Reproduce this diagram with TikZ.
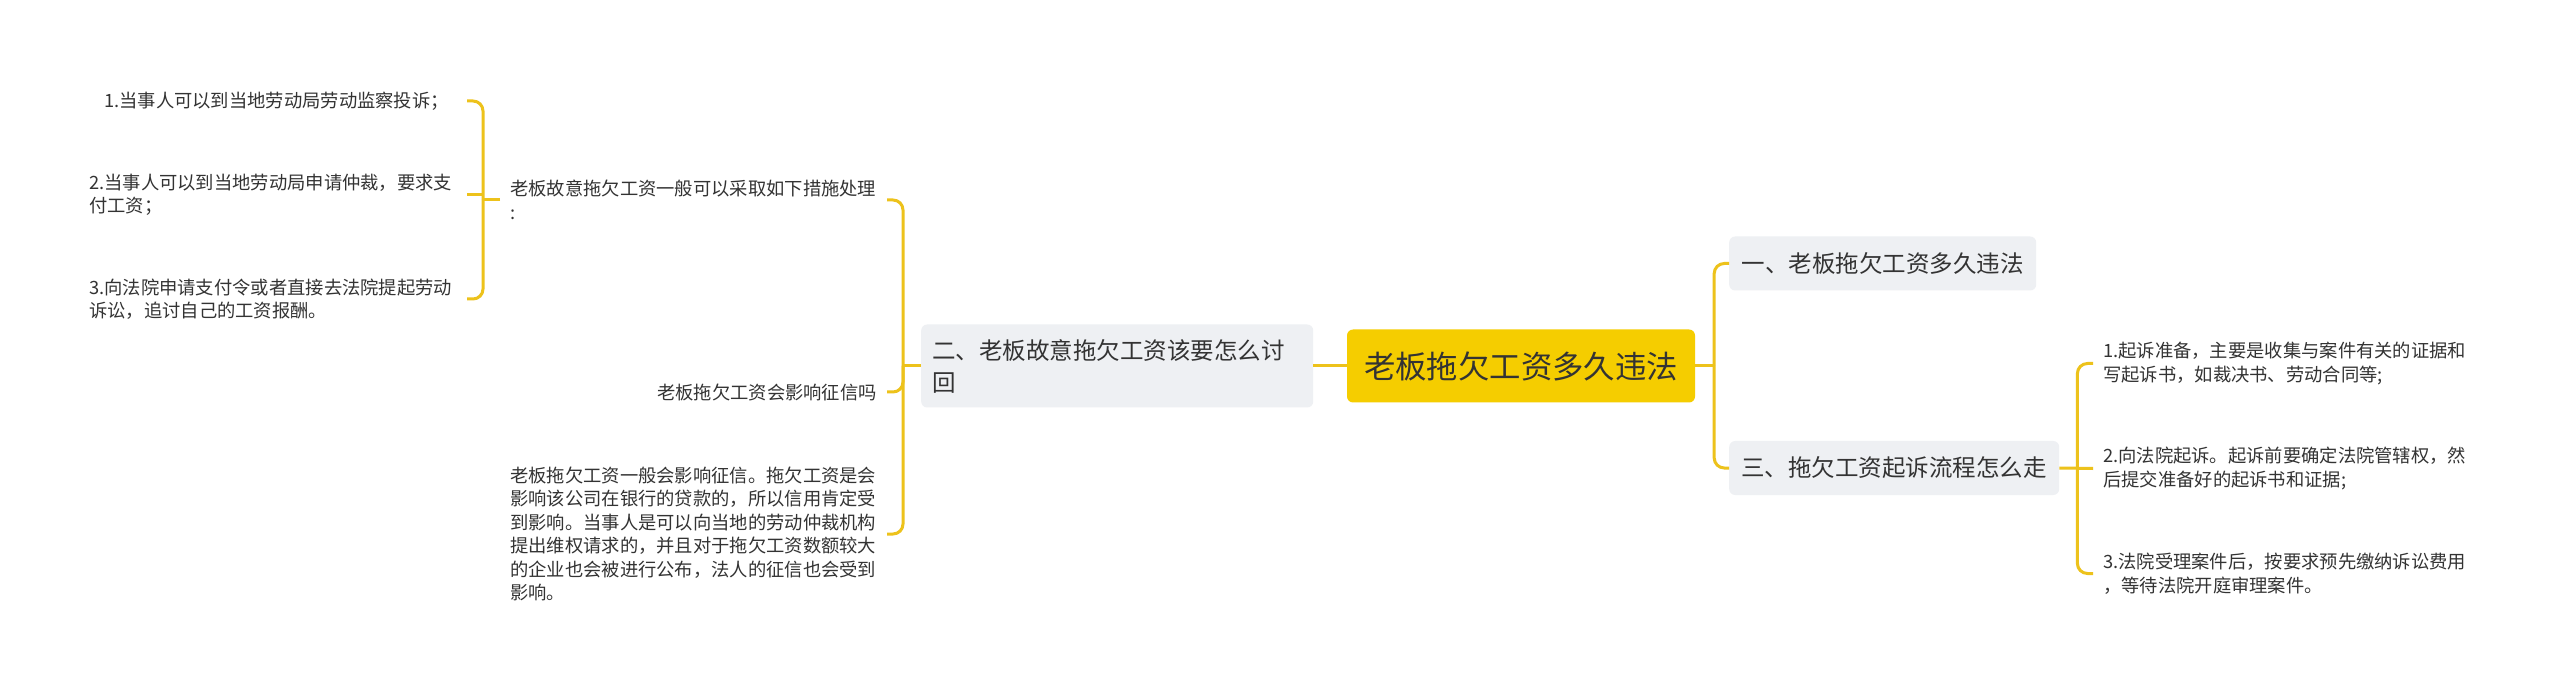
\documentclass[tikz,border=0pt]{standalone}
\usepackage{fontspec}
\setmainfont{Noto Sans CJK SC}
\definecolor{lineY}{HTML}{EDC21B}
\definecolor{rootY}{HTML}{F5CD00}
\definecolor{boxG}{HTML}{EEF0F3}
\definecolor{txt}{HTML}{333333}
\tikzset{
  conn/.style={draw=lineY, line width=3pt, rounded corners=10pt},
  rootbox/.style={fill=rootY, rounded corners=6pt, minimum width=348pt, minimum height=73pt,
    font=\fontsize{31.4}{38}\selectfont, text=txt, inner sep=0pt},
  topic/.style={fill=boxG, rounded corners=6pt, font=\fontsize{23.5}{32}\selectfont,
    text=txt, inner sep=0pt, anchor=west, minimum height=54pt},
  leaf/.style={font=\fontsize{18.3}{23.5}\selectfont, text=txt, inner sep=0pt, align=left},
}
\begin{document}
\begin{tikzpicture}[x=1pt,y=-1pt]
\useasboundingbox[fill=white] (0,0) rectangle (2560,692);

% central topic
\node[rootbox] (root) at (1521,366) {老板拖欠工资多久违法};

% main topics
\node[topic, text width=370pt, align=left, inner xsep=11pt, minimum height=83pt] (n2) at (921,366)
  {二、老板故意拖欠工资该要怎么讨\\回};
\node[topic, minimum width=307pt] (n1) at (1729,263.5) {一、老板拖欠工资多久违法};
\node[topic, minimum width=330pt] (n3) at (1729,468) {三、拖欠工资起诉流程怎么走};

% children of n2
\node[leaf, text width=367pt, anchor=west] (L1) at (510,200)
  {老板故意拖欠工资一般可以采取如下措施处理\\:};
\node[leaf, anchor=east] (L2) at (877,392) {老板拖欠工资会影响征信吗};
\node[leaf, text width=367pt, anchor=west] (L3) at (510,534)
  {老板拖欠工资一般会影响征信。拖欠工资是会\\影响该公司在银行的贷款的，所以信用肯定受\\到影响。当事人是可以向当地的劳动仲裁机构\\提出维权请求的，并且对于拖欠工资数额较大\\的企业也会被进行公布，法人的征信也会受到\\影响。};

% children of L1
\node[leaf, anchor=east] (C1) at (449,101) {1.当事人可以到当地劳动局劳动监察投诉；};
\node[leaf, text width=366pt, anchor=west] (C2) at (89,195)
  {2.当事人可以到当地劳动局申请仲裁，要求支\\付工资；};
\node[leaf, text width=366pt, anchor=west] (C3) at (89,299)
  {3.向法院申请支付令或者直接去法院提起劳动\\诉讼，追讨自己的工资报酬。};

% children of n3
\node[leaf, text width=370pt, anchor=west] (R1) at (2103,363.5)
  {1.起诉准备，主要是收集与案件有关的证据和\\写起诉书，如裁决书、劳动合同等;};
\node[leaf, text width=370pt, anchor=west] (R2) at (2103,468.5)
  {2.向法院起诉。起诉前要确定法院管辖权，然\\后提交准备好的起诉书和证据;};
\node[leaf, text width=370pt, anchor=west] (R3) at (2103,573.5)
  {3.法院受理案件后，按要求预先缴纳诉讼费用\\，等待法院开庭审理案件。};

% connectors: root -> n2
\draw[conn] (root.west) -- (n2.east);

% root -> n1, n3
\coordinate (bR) at ([xshift=19pt]root.east);
\draw[conn] (root.east) -- (bR);
\draw[conn] (n1.west) -| (bR);
\draw[conn] (n3.west) -| (bR);

% n2 -> L1, L2, L3
\coordinate (b2) at ([xshift=-18pt]n2.west);
\coordinate (s2) at ([xshift=-16pt]b2);
\draw[conn] (n2.west) -- (b2);
\draw[conn] (L1.east -| s2) -| (b2);
\draw[conn] (L2.east -| s2) -| (b2);
\draw[conn] (L3.east -| s2) -| (b2);

% L1 -> C1, C2, C3
\coordinate (b1) at ([xshift=-27pt]L1.west);
\coordinate (s1) at ([xshift=-16pt]b1);
\draw[conn] ([xshift=-10pt]L1.west) -- (b1);
\draw[conn] (C1.east -| s1) -| (b1);
\draw[conn] (C2.east -| s1) -- (C2.east -| b1);
\draw[conn] (C3.east -| s1) -| (b1);

% n3 -> R1, R2, R3
\coordinate (b3) at ([xshift=18pt]n3.east);
\draw[conn] (n3.east) -- ([xshift=-10pt]R2.west);
\draw[conn] ([xshift=-10pt]R1.west) -| (b3);
\draw[conn] ([xshift=-10pt]R3.west) -| (b3);
\end{tikzpicture}
\end{document}
